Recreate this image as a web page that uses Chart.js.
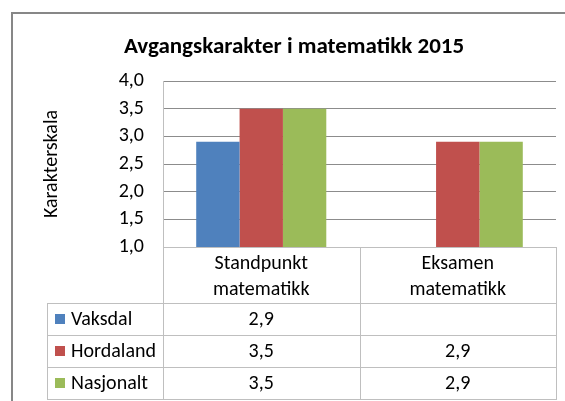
<!DOCTYPE html>
<html>
<head>
<meta charset="utf-8">
<script src="https://cdn.jsdelivr.net/npm/chart.js@4/dist/chart.umd.min.js"></script>
<style>
  html, body { margin: 0; padding: 0; background: #ffffff; }
  #wrap { width: 565px; height: 401px; }
</style>
</head>
<body>
<div id="wrap"><canvas id="c" width="565" height="401"></canvas></div>
<script>
// ---- data ----
const chartTitle = 'Avgangskarakter i matematikk 2015';
const yAxisTitle = 'Karakterskala';
const categories = [['Standpunkt', 'matematikk'], ['Eksamen', 'matematikk']];
const seriesNames = ['Vaksdal', 'Hordaland', 'Nasjonalt'];
const vaksdal = [2.9, null];
const hordaland = [3.5, 2.9];
const nasjonalt = [3.5, 2.9];
const yMin = 1.0;
const yMax = 4.0;
const yStep = 0.5;

const seriesValues = [vaksdal, hordaland, nasjonalt];
const seriesColors = ['#4F81BD', '#C0504D', '#9BBB59'];
const FONT = 'Carlito, Lato, "Liberation Sans", sans-serif';
const fmt = v => (v === null || v === undefined) ? '' : v.toFixed(1).replace('.', ',');

const framePlugin = {
  id: 'frame',
  beforeDraw(chart) {
    const ctx = chart.ctx;
    ctx.save();
    ctx.fillStyle = '#ffffff';
    ctx.fillRect(0, 0, chart.width, chart.height);
    ctx.fillStyle = '#878787';
    ctx.fillRect(11, 12, 2, chart.height - 12);
    ctx.fillRect(11, 12, chart.width - 11, 2);
    ctx.restore();
  }
};

const tablePlugin = {
  id: 'dataTable',
  afterDraw(chart) {
    const ctx = chart.ctx;
    const xs = chart.scales.x;
    const top = chart.chartArea.bottom;
    const headerBottom = top + 56;
    const rowH = 32;
    const nRows = seriesNames.length;
    const tableBottom = headerBottom + rowH * nRows;
    const labelLeft = 47;
    const colCenters = categories.map((c, i) => xs.getPixelForValue(i));
    const bounds = [xs.left];
    for (let i = 0; i < colCenters.length - 1; i++) bounds.push((colCenters[i] + colCenters[i + 1]) / 2);
    bounds.push(xs.right);

    ctx.save();
    ctx.strokeStyle = '#BFBFBF';
    ctx.lineWidth = 1;
    ctx.beginPath();
    bounds.forEach(b => {
      const x = Math.round(b) + 0.5;
      ctx.moveTo(x, top); ctx.lineTo(x, tableBottom);
    });
    ctx.moveTo(labelLeft + 0.5, headerBottom); ctx.lineTo(labelLeft + 0.5, tableBottom);
    for (let r = 0; r <= nRows; r++) {
      const y = Math.round(headerBottom + r * rowH) + 0.5;
      ctx.moveTo(labelLeft, y); ctx.lineTo(Math.round(xs.right) + 1, y);
    }
    ctx.stroke();

    ctx.font = '20px ' + FONT;
    ctx.fillStyle = '#000000';
    ctx.textBaseline = 'middle';
    seriesNames.forEach((name, r) => {
      const cy = headerBottom + r * rowH + rowH / 2;
      ctx.fillStyle = seriesColors[r];
      ctx.fillRect(55, Math.round(cy - 5), 10, 10);
      ctx.fillStyle = '#000000';
      ctx.textAlign = 'left';
      ctx.fillText(name, 71, cy + 1);
      ctx.textAlign = 'center';
      seriesValues[r].forEach((v, i) => {
        ctx.fillText(fmt(v), colCenters[i], cy + 1);
      });
    });
    ctx.restore();
  }
};

new Chart(document.getElementById('c'), {
  type: 'bar',
  data: {
    labels: categories,
    datasets: seriesNames.map((name, i) => ({
      label: name,
      data: seriesValues[i],
      backgroundColor: seriesColors[i],
      borderWidth: 0,
      categoryPercentage: 0.662,
      barPercentage: 1.0
    }))
  },
  options: {
    responsive: false,
    animation: false,
    layout: { padding: { left: 32, right: 9, top: 0, bottom: 0 } },
    plugins: {
      legend: { display: false },
      tooltip: { enabled: false },
      title: {
        display: true,
        text: chartTitle,
        color: '#000000',
        font: { family: FONT, size: 23, weight: 'bold', lineHeight: 1.2 },
        padding: { top: 33.5, bottom: 19.9 }
      }
    },
    scales: {
      x: {
        grid: { display: false, drawTicks: false },
        border: { display: true, color: '#BFBFBF', width: 1 },
        ticks: {
          color: '#000000',
          font: { family: FONT, size: 20, lineHeight: 1.3 },
          padding: 4,
          maxRotation: 0,
          autoSkip: false
        },
        afterFit(scale) { scale.height = 154; }
      },
      y: {
        min: yMin,
        max: yMax,
        grid: { color: '#8C8C8C', lineWidth: 1, drawTicks: false },
        border: { display: true, color: '#BFBFBF', width: 1 },
        ticks: {
          stepSize: yStep,
          color: '#000000',
          font: { family: FONT, size: 20 },
          padding: 19,
          callback: v => fmt(v)
        },
        title: {
          display: true,
          text: yAxisTitle,
          color: '#000000',
          font: { family: FONT, size: 20, lineHeight: 1.2 },
          padding: { top: 8, bottom: 0 }
        },
        afterFit(scale) { scale.width = 131; }
      }
    }
  },
  plugins: [framePlugin, tablePlugin]
});
</script>
</body>
</html>
